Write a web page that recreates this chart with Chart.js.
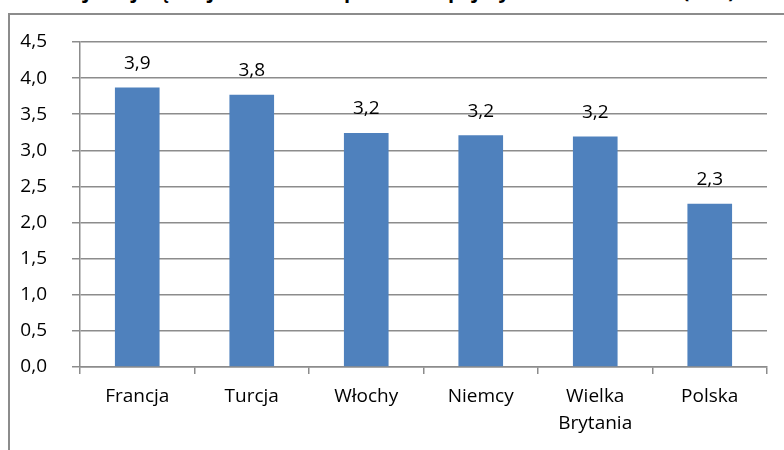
<!DOCTYPE html>
<html>
<head>
<meta charset="utf-8">
<script src="https://cdn.jsdelivr.net/npm/chart.js@4.4.0/dist/chart.umd.min.js"></script>
<style>
  html, body { margin: 0; background: #fff; overflow: hidden; width: 784px; height: 450px; }
  #title { position: absolute; left: 0; top: -23px; width: 784px; text-align: center;
           font: bold 20px "Open Sans", sans-serif; color: #000; white-space: nowrap; overflow: hidden; }
  #frame { position: absolute; left: 8px; top: 13px; right: 0; bottom: 0;
           border-top: 2px solid #8c8c8c; border-left: 2px solid #8c8c8c; }
  #wrap { position: absolute; left: 0; top: 0; width: 784px; height: 450px; }
</style>
</head>
<body>
<div id="title">Kraje najczęściej odwiedzane przez Europejczyków w 2012 roku (mln)</div>
<div id="frame"></div>
<div id="wrap"><canvas id="chart"></canvas></div>
<script>
const categories = [['Francja'], ['Turcja'], ['Włochy'], ['Niemcy'], ['Wielka', 'Brytania'], ['Polska']];
const values = [3.87, 3.77, 3.24, 3.21, 3.19, 2.26];
const valueLabels = ['3,9', '3,8', '3,2', '3,2', '3,2', '2,3'];
const yTicks = ['0,0', '0,5', '1,0', '1,5', '2,0', '2,5', '3,0', '3,5', '4,0', '4,5'];

const font = { family: '"Open Sans", sans-serif', size: 19, lineHeight: 1.42 };

const barLabels = {
  id: 'barLabels',
  afterDatasetsDraw(chart) {
    const ctx = chart.ctx;
    ctx.save();
    ctx.font = '19px "Open Sans", sans-serif';
    ctx.fillStyle = '#000';
    ctx.textAlign = 'center';
    ctx.textBaseline = 'middle';
    chart.getDatasetMeta(0).data.forEach((bar, i) => {
      ctx.fillText(valueLabels[i], bar.x, bar.y - 24);
    });
    ctx.restore();
  }
};

new Chart(document.getElementById('chart'), {
  type: 'bar',
  data: {
    labels: categories,
    datasets: [{
      data: values,
      backgroundColor: '#4f81bd',
      borderWidth: 0,
      categoryPercentage: 1,
      barPercentage: 0.39
    }]
  },
  options: {
    responsive: true,
    maintainAspectRatio: false,
    animation: false,
    layout: { padding: { top: 42, right: 17, left: 0, bottom: 0 } },
    plugins: { legend: { display: false }, tooltip: { enabled: false } },
    scales: {
      x: {
        afterFit: s => { s.height = 83; },
        grid: { offset: true, drawOnChartArea: false, color: '#8c8c8c', lineWidth: 1.5, tickLength: 7 },
        border: { color: '#8c8c8c', width: 1.5 },
        ticks: { color: '#000', font: font, padding: 9, maxRotation: 0 }
      },
      y: {
        min: 0,
        max: 4.5,
        afterFit: s => { s.width = 80; },
        grid: { color: '#8c8c8c', lineWidth: 1.5, tickLength: 8 },
        border: { color: '#8c8c8c', width: 1.5 },
        ticks: {
          stepSize: 0.5,
          color: '#000',
          font: font,
          padding: 25,
          callback: (v, i) => yTicks[i]
        }
      }
    }
  },
  plugins: [barLabels]
});
</script>
</body>
</html>
